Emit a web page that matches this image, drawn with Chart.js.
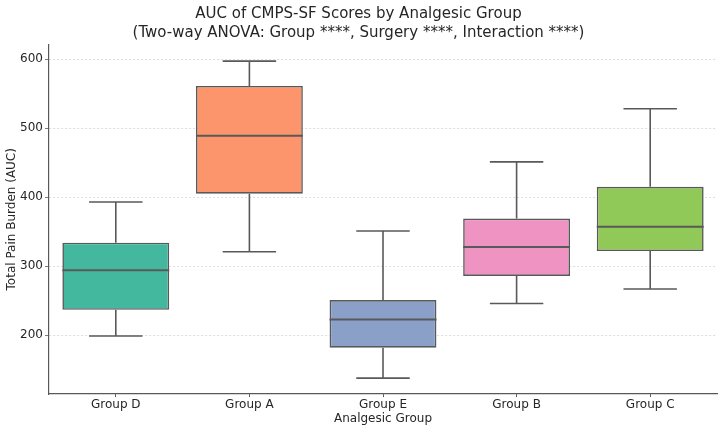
<!DOCTYPE html>
<html lang="en">
  <head>
    <meta charset="UTF-8" />
    <title>AUC of CMPS-SF Scores by Analgesic Group</title>
    <script src="https://cdn.jsdelivr.net/npm/chart.js"></script>
    <style>
      html, body { margin: 0; padding: 0; background: #fff; }
      #wrap { width: 724px; height: 430px; }
    </style>
  </head>
  <body>
    <div id="wrap"><canvas id="box-plot"></canvas></div>
    <script>
      // values
      const groups = ["Group D", "Group A", "Group E", "Group B", "Group C"];
      const mins = [199, 321, 138, 246, 267];
      const q1s = [237, 405, 182, 286, 322];
      const medians = [294, 489, 223, 328, 357];
      const q3s = [334, 561, 251, 369, 415];
      const maxs = [393, 597, 351, 451, 528];
      const yTicks = [200, 300, 400, 500, 600];
      const colors = ["#43b89f", "#fc946c", "#8ba0c8", "#ef93c3", "#91c958"];

      const lineGray = "#595959";
      const textColor = "#262626";

      // whiskers + median, drawn with the chart's own scales
      const boxParts = {
        id: "boxParts",
        afterDatasetsDraw(chart) {
          const ctx = chart.ctx;
          const x = chart.scales.x;
          const y = chart.scales.y;
          const bars = chart.getDatasetMeta(0).data;
          ctx.save();
          ctx.strokeStyle = lineGray;
          ctx.lineCap = "butt";
          groups.forEach((g, i) => {
            const cx = x.getPixelForValue(i);
            const half = bars[i].width / 2;
            const cap = half / 2;
            ctx.lineWidth = 1.6;
            ctx.beginPath();
            // upper whisker
            ctx.moveTo(cx, y.getPixelForValue(q3s[i]));
            ctx.lineTo(cx, y.getPixelForValue(maxs[i]));
            ctx.moveTo(cx - cap, y.getPixelForValue(maxs[i]));
            ctx.lineTo(cx + cap, y.getPixelForValue(maxs[i]));
            // lower whisker
            ctx.moveTo(cx, y.getPixelForValue(q1s[i]));
            ctx.lineTo(cx, y.getPixelForValue(mins[i]));
            ctx.moveTo(cx - cap, y.getPixelForValue(mins[i]));
            ctx.lineTo(cx + cap, y.getPixelForValue(mins[i]));
            ctx.stroke();
            // median
            ctx.lineWidth = 2;
            ctx.beginPath();
            ctx.moveTo(cx - half, y.getPixelForValue(medians[i]));
            ctx.lineTo(cx + half, y.getPixelForValue(medians[i]));
            ctx.stroke();
          });
          ctx.restore();
        },
      };

      const ctx = document.getElementById("box-plot").getContext("2d");
      new Chart(ctx, {
        type: "bar",
        data: {
          labels: groups,
          datasets: [
            {
              data: groups.map((g, i) => [q1s[i], q3s[i]]),
              backgroundColor: colors,
              borderColor: lineGray,
              borderWidth: 1.6,
              borderSkipped: false,
              categoryPercentage: 0.8,
              barPercentage: 1.0,
            },
          ],
        },
        options: {
          responsive: true,
          maintainAspectRatio: false,
          animation: false,
          layout: { padding: { right: 7, left: 0, bottom: 0, top: 0 } },
          plugins: {
            legend: { display: false },
            tooltip: { enabled: false },
            title: {
              display: true,
              text: [
                "AUC of CMPS-SF Scores by Analgesic Group",
                "(Two-way ANOVA: Group ****, Surgery ****, Interaction ****)",
              ],
              color: textColor,
              font: { family: "DejaVu Sans", size: 15, weight: "normal", lineHeight: 1.25 },
              padding: { top: 5, bottom: 2 },
            },
          },
          scales: {
            x: {
              offset: true,
              afterFit: (scale) => {
                scale.height = 36;
              },
              grid: {
                display: true,
                drawOnChartArea: false,
                drawTicks: true,
                offset: false,
                tickLength: 3,
                tickColor: lineGray,
              },
              border: { display: true, color: lineGray, width: 1.2 },
              ticks: {
                color: textColor,
                font: { family: "DejaVu Sans", size: 12 },
                padding: 1,
              },
              title: {
                display: true,
                text: "Analgesic Group",
                color: textColor,
                font: { family: "DejaVu Sans", size: 12 },
                padding: { top: 0, bottom: 4 },
              },
            },
            y: {
              min: 115,
              max: 621,
              afterBuildTicks: (scale) => {
                scale.ticks = yTicks.map((v) => ({ value: v }));
              },
              afterFit: (scale) => {
                scale.width = 49;
              },
              grid: {
                color: "#d4d4d4",
                lineWidth: 0.8,
                tickLength: 4,
                tickColor: lineGray,
                tickBorderDash: [],
              },
              border: { display: true, color: lineGray, width: 1.2, dash: [2, 2] },
              ticks: {
                color: textColor,
                font: { family: "DejaVu Sans", size: 12 },
                padding: 2,
              },
              title: {
                display: true,
                text: "Total Pain Burden (AUC)",
                color: textColor,
                font: { family: "DejaVu Sans", size: 12 },
                padding: { top: 5, bottom: 0 },
              },
            },
          },
        },
        plugins: [boxParts],
      });
    </script>
  </body>
</html>
